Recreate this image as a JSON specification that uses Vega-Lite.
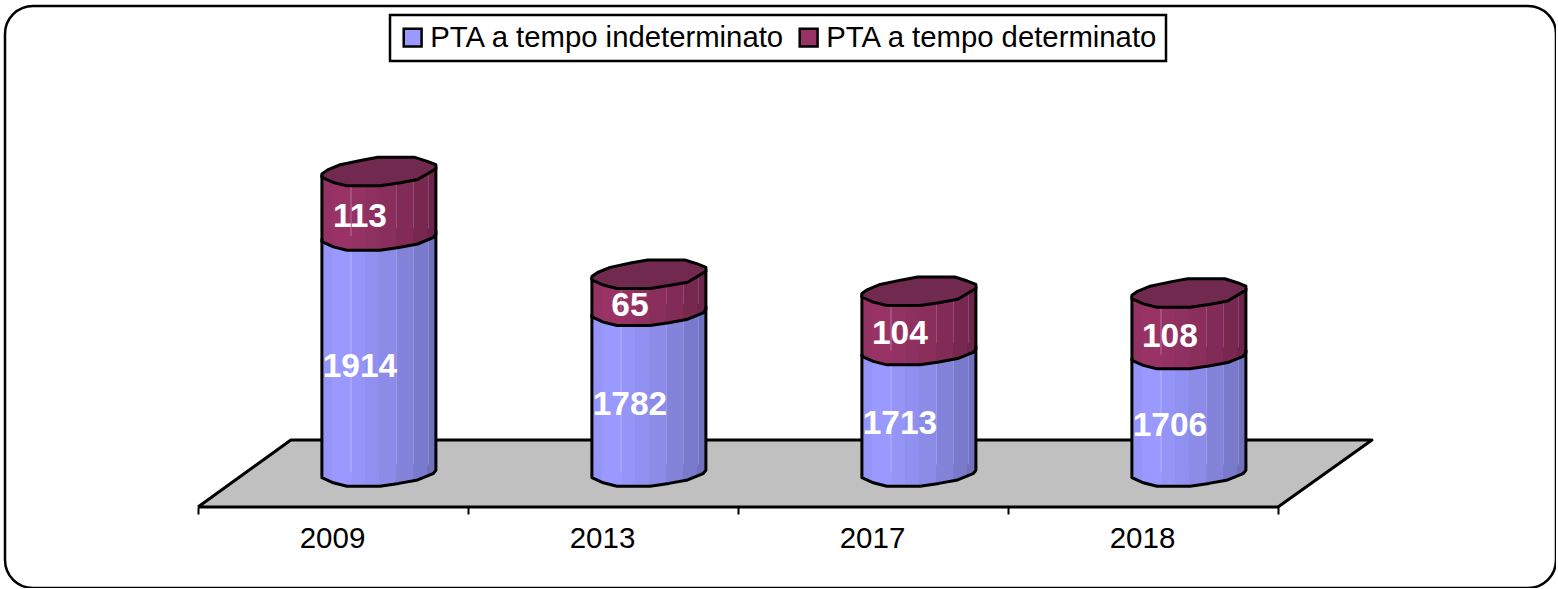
{
"$schema":"https://vega.github.io/schema/vega-lite/v6.json",
"width":1551,"height":582,
"autosize":"none",
"padding":{"left":5,"top":6,"right":0,"bottom":0},
"background":"white",
"config":{"font":"Liberation Sans","legend":{"strokeWidth":2.5},"view":{"stroke":"black","strokeWidth":2.5,"cornerRadius":28,"fill":"white"}},
"datasets":{
"segmenti":[
{"anno":"2009","indice":0,"serie":"PTA a tempo indeterminato","valore":1914,"inizio":1500,"fine":1914},
{"anno":"2013","indice":1,"serie":"PTA a tempo indeterminato","valore":1782,"inizio":1500,"fine":1782},
{"anno":"2017","indice":2,"serie":"PTA a tempo indeterminato","valore":1713,"inizio":1500,"fine":1713},
{"anno":"2018","indice":3,"serie":"PTA a tempo indeterminato","valore":1706,"inizio":1500,"fine":1706},
{"anno":"2009","indice":0,"serie":"PTA a tempo determinato","valore":113,"inizio":1914,"fine":2027},
{"anno":"2013","indice":1,"serie":"PTA a tempo determinato","valore":65,"inizio":1782,"fine":1847},
{"anno":"2017","indice":2,"serie":"PTA a tempo determinato","valore":104,"inizio":1713,"fine":1817},
{"anno":"2018","indice":3,"serie":"PTA a tempo determinato","valore":108,"inizio":1706,"fine":1814}
],
"pavimento":[
{"ordine":1,"px":0,"py":1438.6},
{"ordine":2,"px":0.344,"py":1556.1},
{"ordine":3,"px":4.348,"py":1556.1},
{"ordine":4,"px":4,"py":1438.6},
{"ordine":5,"px":0,"py":1438.6}
]},
"layer":[
{"data":{"name":"pavimento"},
 "mark":{"type":"line","fill":"#C0C0C0","stroke":"black","strokeWidth":3,"strokeJoin":"round"},
 "encoding":{
  "x":{"field":"px","type":"quantitative","scale":{"domain":[-0.7148,5.0296],"nice":false,"zero":false,"padding":0},
   "axis":{"values":[0,1,2,3,4],"title":null,"grid":false,"domain":false,"offset":-81,"ticks":true,"tickColor":"black","tickSize":7,"tickWidth":2,
    "labelExpr":"['2009','2013','2017','2018',''][datum.value]","labelOffset":134,"labelFontSize":29.5,"labelColor":"black","labelPadding":10,"labelFlush":false,"labelBound":false,"labelOverlap":false,"labelFont":"Liberation Sans"}},
  "y":{"field":"py","type":"quantitative","scale":{"domain":[1296.5,2317.5],"nice":false,"zero":false},"axis":null},
  "order":{"field":"ordine"}}},
{"data":{"name":"segmenti"},
 "transform":[{"calculate":"datum.indice+0.67","as":"centro"}],
 "encoding":{
  "x":{"field":"centro","type":"quantitative","scale":{"domain":[-0.7148,5.0296],"nice":false,"zero":false,"padding":0},
   "axis":{"values":[0,1,2,3,4],"title":null,"grid":false,"domain":false,"offset":-81,"ticks":true,"tickColor":"black","tickSize":7,"tickWidth":2,
    "labelExpr":"['2009','2013','2017','2018',''][datum.value]","labelOffset":134,"labelFontSize":29.5,"labelColor":"black","labelPadding":10,"labelFlush":false,"labelBound":false,"labelOverlap":false,"labelFont":"Liberation Sans"}}
 },
 "layer":[
  {"mark":{"type":"bar","size":1},
   "encoding":{
    "y":{"field":"fine","type":"quantitative","scale":{"domain":[1296.5,2317.5],"nice":false,"zero":false},"axis":null},
    "y2":{"field":"inizio"},
    "color":{"field":"serie","type":"nominal","scale":{"domain":["PTA a tempo indeterminato","PTA a tempo determinato"],"range":["#9999FF","#993366"]},
     "legend":{"orient":"none","legendX":385,"legendY":9,"title":null,"direction":"horizontal","columns":2,"strokeColor":"black","fillColor":"white","padding":8,"symbolType":"square","symbolSize":320,"symbolStrokeColor":"black","symbolStrokeWidth":2.5,"labelFontSize":29.3,"labelColor":"black","labelFont":"Liberation Sans","columnPadding":9,"labelOffset":3,"labelLimit":500}}}},
  {"transform":[{"filter":"datum.inizio==1500"}],
   "layer":[
    {"mark":{"type":"bar","size":57.5,"xOffset":-28.5,"yOffset":3,"y2Offset":3,"fill":{"gradient":"linear","x1":0,"y1":0,"x2":1,"y2":0,"stops":[{"offset":0,"color":"#9595F9"},{"offset":0.18,"color":"#9595F9"},{"offset":0.18,"color":"#9999FF"},{"offset":0.5,"color":"#9999FF"},{"offset":0.5,"color":"#A6A6FF"},{"offset":0.52,"color":"#A6A6FF"},{"offset":0.52,"color":"#9595F8"},{"offset":0.76,"color":"#9595F8"},{"offset":0.76,"color":"#9090F0"},{"offset":1,"color":"#9090F0"}]}},
     "encoding":{"y":{"field":"fine","type":"quantitative","scale":{"domain":[1296.5,2317.5],"nice":false,"zero":false},"axis":null},"y2":{"field":"inizio"}}},
    {"mark":{"type":"bar","size":57.5,"xOffset":28.5,"yOffset":-5,"y2Offset":-5,"fill":{"gradient":"linear","x1":0,"y1":0,"x2":1,"y2":0,"stops":[{"offset":0,"color":"#8C8CE8"},{"offset":0.3,"color":"#8C8CE8"},{"offset":0.3,"color":"#9A9AEE"},{"offset":0.32,"color":"#9A9AEE"},{"offset":0.32,"color":"#8383DA"},{"offset":0.6,"color":"#8383DA"},{"offset":0.6,"color":"#9090E0"},{"offset":0.62,"color":"#9090E0"},{"offset":0.62,"color":"#7A7ACC"},{"offset":0.85,"color":"#7A7ACC"},{"offset":0.85,"color":"#8A8AD8"},{"offset":0.87,"color":"#8A8AD8"},{"offset":0.87,"color":"#7070BC"},{"offset":1,"color":"#7070BC"}]}},
     "encoding":{"y":{"field":"fine","type":"quantitative","scale":{"domain":[1296.5,2317.5],"nice":false,"zero":false},"axis":null},"y2":{"field":"inizio"}}},
    {"mark":{"type":"point","filled":true,"opacity":1,"size":12996,"strokeWidth":0,"shape":"M-1,0 L-1,.1 L-.8,.19 L-.56,.25 L.02,.25 L.35,.2 L.68,.14 L.95,.03 L1,-.03 L1,-.13 L0,-.13 L0,0 Z","fill":{"gradient":"linear","x1":0,"y1":0,"x2":1,"y2":0,"stops":[{"offset":0,"color":"#9595F9"},{"offset":0.09,"color":"#9595F9"},{"offset":0.09,"color":"#9999FF"},{"offset":0.26,"color":"#9999FF"},{"offset":0.26,"color":"#9595F8"},{"offset":0.38,"color":"#9595F8"},{"offset":0.38,"color":"#9090F0"},{"offset":0.5,"color":"#9090F0"},{"offset":0.5,"color":"#8C8CE8"},{"offset":0.65,"color":"#8C8CE8"},{"offset":0.65,"color":"#8383DA"},{"offset":0.8,"color":"#8383DA"},{"offset":0.8,"color":"#7A7ACC"},{"offset":0.92,"color":"#7A7ACC"},{"offset":0.92,"color":"#7070BC"},{"offset":1,"color":"#7070BC"}]}},
     "encoding":{"y":{"field":"inizio","type":"quantitative","scale":{"domain":[1296.5,2317.5],"nice":false,"zero":false},"axis":null}}}
   ]},
  {"transform":[{"filter":"datum.inizio!=1500"}],
   "layer":[
    {"mark":{"type":"bar","size":57.5,"xOffset":-28.5,"yOffset":3,"y2Offset":3,"fill":{"gradient":"linear","x1":0,"y1":0,"x2":1,"y2":0,"stops":[{"offset":0,"color":"#943264"},{"offset":0.18,"color":"#943264"},{"offset":0.18,"color":"#993366"},{"offset":0.5,"color":"#993366"},{"offset":0.5,"color":"#A65080"},{"offset":0.52,"color":"#A65080"},{"offset":0.52,"color":"#943264"},{"offset":0.76,"color":"#943264"},{"offset":0.76,"color":"#8E3060"},{"offset":1,"color":"#8E3060"}]}},
     "encoding":{"y":{"field":"fine","type":"quantitative","scale":{"domain":[1296.5,2317.5],"nice":false,"zero":false},"axis":null},"y2":{"field":"inizio"}}},
    {"mark":{"type":"bar","size":57.5,"xOffset":28.5,"yOffset":-5,"y2Offset":-5,"fill":{"gradient":"linear","x1":0,"y1":0,"x2":1,"y2":0,"stops":[{"offset":0,"color":"#8A2E5C"},{"offset":0.3,"color":"#8A2E5C"},{"offset":0.3,"color":"#9A4C78"},{"offset":0.32,"color":"#9A4C78"},{"offset":0.32,"color":"#812B56"},{"offset":0.6,"color":"#812B56"},{"offset":0.6,"color":"#914874"},{"offset":0.62,"color":"#914874"},{"offset":0.62,"color":"#78284F"},{"offset":0.85,"color":"#78284F"},{"offset":0.85,"color":"#884470"},{"offset":0.87,"color":"#884470"},{"offset":0.87,"color":"#6C2449"},{"offset":1,"color":"#6C2449"}]}},
     "encoding":{"y":{"field":"fine","type":"quantitative","scale":{"domain":[1296.5,2317.5],"nice":false,"zero":false},"axis":null},"y2":{"field":"inizio"}}},
    {"mark":{"type":"point","filled":true,"opacity":1,"size":12996,"strokeWidth":0,"shape":"M-1,0 L-1,.1 L-.8,.19 L-.56,.25 L.02,.25 L.35,.2 L.68,.14 L.95,.03 L1,-.03 L1,-.13 L0,-.13 L0,0 Z","fill":{"gradient":"linear","x1":0,"y1":0,"x2":1,"y2":0,"stops":[{"offset":0,"color":"#943264"},{"offset":0.09,"color":"#943264"},{"offset":0.09,"color":"#993366"},{"offset":0.26,"color":"#993366"},{"offset":0.26,"color":"#943264"},{"offset":0.38,"color":"#943264"},{"offset":0.38,"color":"#8E3060"},{"offset":0.5,"color":"#8E3060"},{"offset":0.5,"color":"#8A2E5C"},{"offset":0.65,"color":"#8A2E5C"},{"offset":0.65,"color":"#812B56"},{"offset":0.8,"color":"#812B56"},{"offset":0.8,"color":"#78284F"},{"offset":0.92,"color":"#78284F"},{"offset":0.92,"color":"#6C2449"},{"offset":1,"color":"#6C2449"}]}},
     "encoding":{"y":{"field":"inizio","type":"quantitative","scale":{"domain":[1296.5,2317.5],"nice":false,"zero":false},"axis":null}}}
   ]},
  {"mark":{"type":"rule","xOffset":-57,"yOffset":3,"y2Offset":3,"stroke":"black","strokeWidth":3},
   "encoding":{"y":{"field":"fine","type":"quantitative","scale":{"domain":[1296.5,2317.5],"nice":false,"zero":false},"axis":null},"y2":{"field":"inizio"}}},
  {"mark":{"type":"rule","xOffset":57,"yOffset":-5,"y2Offset":-5,"stroke":"black","strokeWidth":3},
   "encoding":{"y":{"field":"fine","type":"quantitative","scale":{"domain":[1296.5,2317.5],"nice":false,"zero":false},"axis":null},"y2":{"field":"inizio"}}},
  {"mark":{"type":"point","filled":false,"opacity":1,"size":12996,"stroke":"black","strokeWidth":3,"strokeJoin":"round","shape":"M-1,.05 L-1,.1 L-.8,.19 L-.56,.25 L.02,.25 L.35,.2 L.68,.14 L.95,.03 L1,-.03 L1,-.09"},
   "encoding":{"y":{"field":"inizio","type":"quantitative","scale":{"domain":[1296.5,2317.5],"nice":false,"zero":false},"axis":null}}},
  {"transform":[{"filter":"datum.inizio!=1500"}],
   "mark":{"type":"point","filled":true,"opacity":1,"size":12996,"fill":"#72294F","stroke":"black","strokeWidth":3,"strokeJoin":"round","shape":"M-1,.04 L-.9,-.03 L-.68,-.12 L-.3,-.2 L-.02,-.25 L.63,-.25 L.85,-.18 L1,-.12 L1,-.05 L.68,.14 L.35,.2 L.02,.25 L-.56,.25 L-.8,.19 L-1,.1 Z"},
   "encoding":{"y":{"field":"fine","type":"quantitative","scale":{"domain":[1296.5,2317.5],"nice":false,"zero":false},"axis":null}}},
  {"transform":[{"calculate":"(datum.inizio+datum.fine)/2","as":"medio"}],
   "mark":{"type":"text","font":"Liberation Sans","fontWeight":"bold","fontSize":33.5,"fill":"white","xOffset":-19,"yOffset":13,"align":"center","baseline":"middle"},
   "encoding":{"y":{"field":"medio","type":"quantitative","scale":{"domain":[1296.5,2317.5],"nice":false,"zero":false},"axis":null},"text":{"field":"valore","type":"quantitative"}}}
 ]}
]
}
